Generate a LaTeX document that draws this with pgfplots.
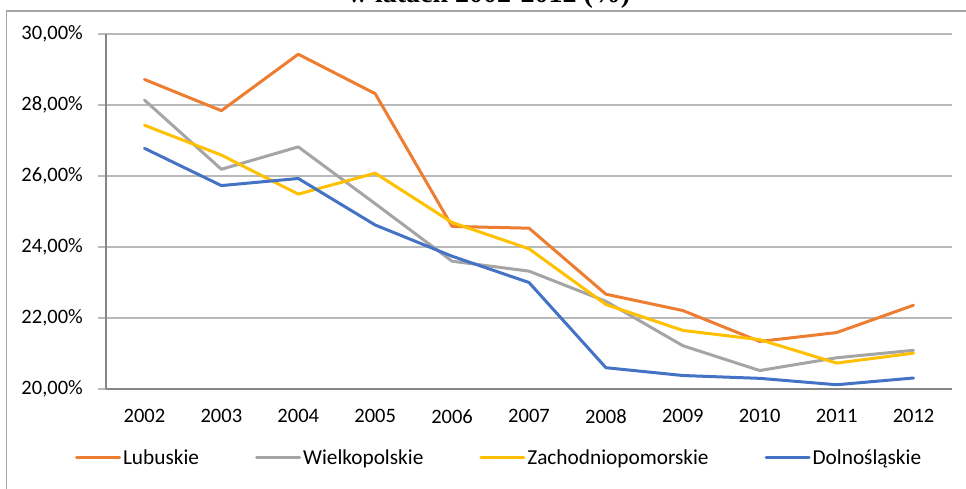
\documentclass[border=0pt]{standalone}
\usepackage{fontspec}
\setmainfont{Carlito}
\newfontfamily\titlefont{Liberation Serif}
\usepackage{pgfplots}
\pgfplotsset{compat=1.18}
\definecolor{cLub}{RGB}{237,125,49}
\definecolor{cWlk}{RGB}{165,165,165}
\definecolor{cZach}{RGB}{255,192,0}
\definecolor{cDoln}{RGB}{68,114,196}
\definecolor{gridc}{RGB}{185,185,185}
\definecolor{axisc}{RGB}{134,134,134}
\definecolor{framec}{RGB}{165,165,165}
\begin{document}
\begin{tikzpicture}[x=1pt,y=1pt]
\draw[framec, line width=1.2pt] (6.5,-20) -- (6.5,477) -- (990,477);
\node[anchor=base, font=\titlefont\bfseries\fontsize{28}{30}\selectfont] at (489,485) {w latach 2002-2012 (\%)};
\begin{axis}[
  at={(106pt,99pt)}, anchor=south west,
  scale only axis, width=846pt, height=355pt,
  xmin=-0.5, xmax=10.5, ymin=20, ymax=30,
  axis lines=left,
  axis line style={-, axisc, line width=1.6pt},
  ymajorgrids, grid style={gridc, line width=1.3pt},
  ytick={20,22,...,30},
  yticklabel={\pgfmathprintnumber[fixed,fixed zerofill,precision=2,use comma,assume math mode=true]{\tick}\%},
  y tick label style={anchor=east, inner sep=0pt, xshift=-15pt},
  tick align=outside, major tick length=8pt,
  ytick style={gridc, line width=1.3pt},
  xtick={0,...,10},
  xticklabels={2002,2003,2004,2005,2006,2007,2008,2009,2010,2011,2012},
  xtick style={draw=none},
  extra x ticks={-0.5,0.5,...,10.5},
  extra x tick labels={},
  extra x tick style={major tick length=6pt, tick style={draw=axisc, line width=1.3pt}},
  x tick label style={anchor=north, inner sep=0pt, yshift=-12pt},
  tick label style={font=\fontsize{20.5}{24}\selectfont},
  legend columns=4,
  legend cell align=left,
  legend image code/.code={\draw[#1] (0pt,0pt) -- (43pt,0pt);},
  legend style={at={(axis description cs:-0.0366,-0.194)}, anchor=west, draw=none, fill=none,
    inner sep=0pt, outer sep=0pt, column sep=0pt,
    /tikz/every even column/.append style={column sep=54pt},
    nodes={inner sep=2pt, anchor=west},
    font=\fontsize{21.3}{24}\selectfont},
  every axis plot/.append style={line width=3pt, line join=round, line cap=round},
]
\addplot[cLub] coordinates {(0,28.72) (1,27.84) (2,29.43) (3,28.32) (4,24.58) (5,24.53) (6,22.67) (7,22.21) (8,21.34) (9,21.59) (10,22.36)};
\addlegendentry{Lubuskie}
\addplot[cWlk] coordinates {(0,28.14) (1,26.19) (2,26.82) (3,25.22) (4,23.60) (5,23.32) (6,22.47) (7,21.22) (8,20.52) (9,20.88) (10,21.09)};
\addlegendentry{Wielkopolskie}
\addplot[cZach] coordinates {(0,27.43) (1,26.59) (2,25.49) (3,26.08) (4,24.69) (5,23.95) (6,22.38) (7,21.65) (8,21.39) (9,20.73) (10,21.01)};
\addlegendentry{Zachodniopomorskie}
\addplot[cDoln] coordinates {(0,26.78) (1,25.73) (2,25.93) (3,24.62) (4,23.74) (5,23.00) (6,20.60) (7,20.38) (8,20.30) (9,20.12) (10,20.31)};
\addlegendentry{Dolnośląskie}
\end{axis}
\pgfresetboundingbox
\useasboundingbox (0,0) rectangle (966,488);
\end{tikzpicture}
\end{document}
